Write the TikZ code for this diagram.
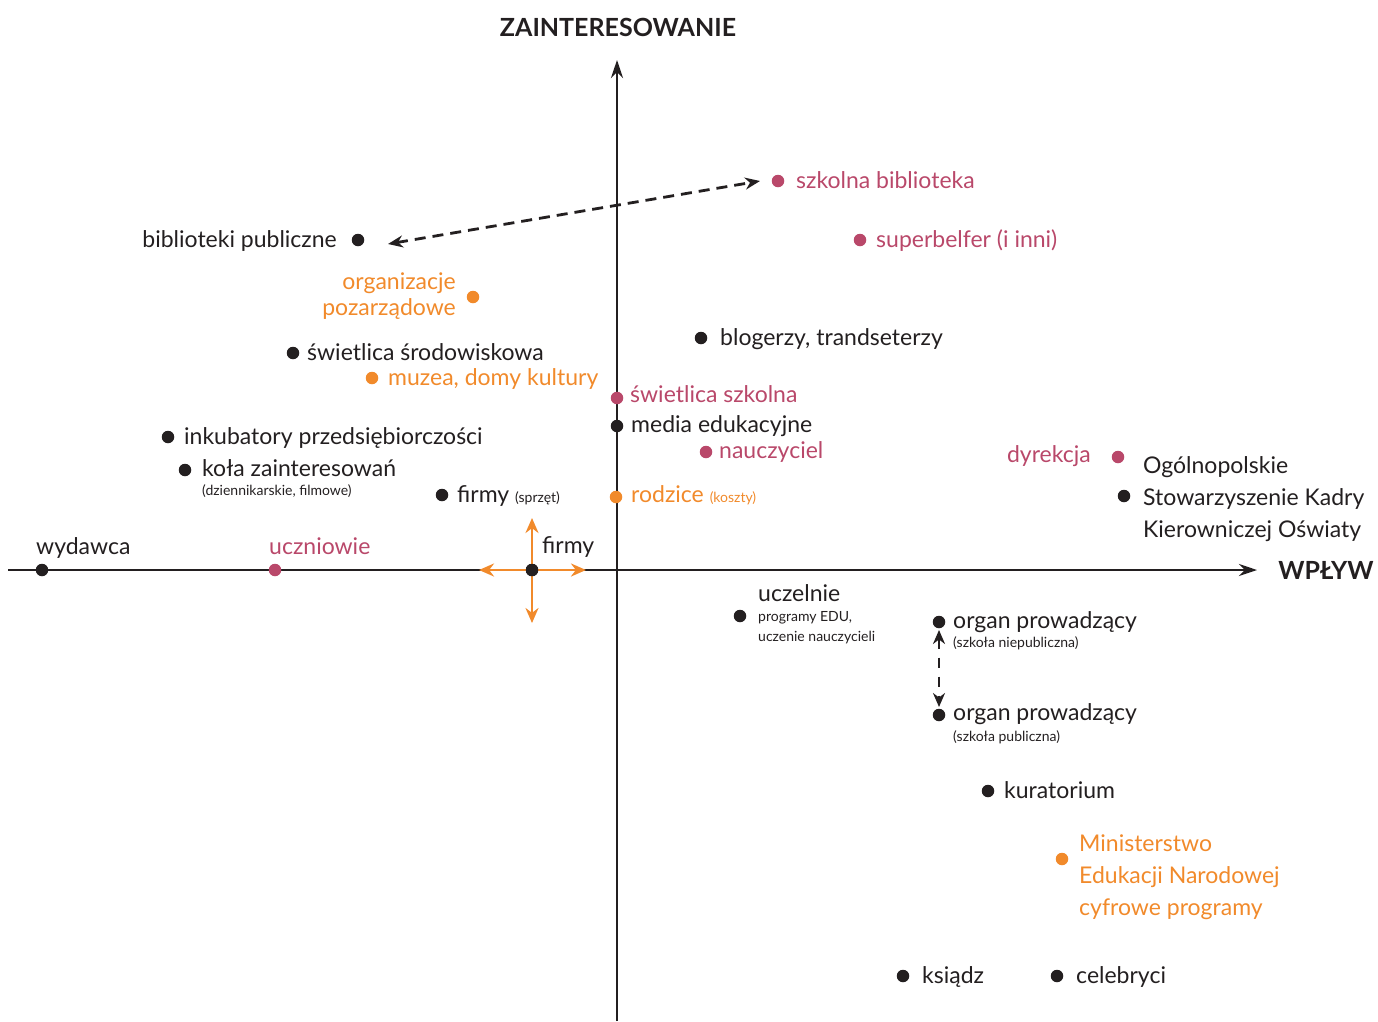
\documentclass[tikz,border=0pt]{standalone}
\usepackage{fontspec}
\setmainfont{Lato}
\usetikzlibrary{arrows.meta}
\definecolor{ink}{HTML}{231F20}
\definecolor{mag}{HTML}{B9486A}
\definecolor{org}{HTML}{F18A2B}
\tikzset{
  dot/.style={circle,fill=#1,inner sep=0pt,minimum size=12.5pt},
  lbl/.style={inner sep=0pt,anchor=base west,font=\fontsize{23}{27}\selectfont,text=#1},
  lbl/.default=ink,
  lble/.style={lbl=#1,anchor=base east},
  lble/.default=ink,
  sm/.style={inner sep=0pt,anchor=base west,font=\fontsize{14}{17}\selectfont,text=ink},
  axis/.style={line width=2.7pt,draw=ink,-{Stealth[length=18pt,width=12pt]}},
  dash2/.style={line width=2.8pt,draw=ink,dash pattern=on 11pt off 7pt,{Stealth[length=15pt,width=12pt]}-{Stealth[length=15pt,width=12pt]}},
  dashv/.style={line width=2.8pt,draw=ink,dash pattern=on 10pt off 9pt,{Stealth[length=14pt,width=12pt]}-{Stealth[length=14pt,width=12pt]}},
  oarr/.style={line width=2.6pt,draw=org,-{Stealth[length=15pt,width=13pt]}},
  head/.style={inner sep=0pt,font=\fontsize{25}{29}\selectfont\bfseries,text=ink}
}
\begin{document}
\begin{tikzpicture}[x=1pt,y=-1pt]
\useasboundingbox (0,0) rectangle (1378,1021);
% axes
\coordinate (xl) at (8,570);
\coordinate (xr) at (1257,570);
\coordinate (yb) at (617,1021);
\coordinate (yt) at (617,60);
\draw[axis] (xl) -- (xr);
\draw[axis] (yb) -- (yt);
\node[head] (ty) at (618,27) {ZAINTERESOWANIE};
\node[head] (tx) at (1326,570) {WPŁYW};

% points
\node[dot=mag] (sb) at (778,181) {};
\node[lbl=mag] (sbt) at (796,188) {szkolna biblioteka};
\node[dot=mag] (sf) at (860,240) {};
\node[lbl=mag] (sft) at (876,247) {superbelfer (i inni)};
\node[dot=ink] (bp) at (358,240) {};
\node[lble] (bpt) at (337,247) {biblioteki publiczne};
\draw[dash2] ([xshift=30pt,yshift=-4pt]bp.center) -- ([xshift=-18pt]sb.center);

\node[dot=org] (op) at (473,297) {};
\node[lble=org] (opt1) at (456,289) {organizacje};
\node[lble=org] (opt2) at (456,315) {pozarządowe};

\node[dot=ink] (bl) at (701,338) {};
\node[lbl] (blt) at (720,345) {blogerzy, trandseterzy};
\node[dot=ink] (ss) at (293,353) {};
\node[lbl] (sst) at (307,360) {świetlica środowiskowa};
\node[dot=org] (mu) at (372,378) {};
\node[lbl=org] (mut) at (388,385) {muzea, domy kultury};
\node[dot=mag] (sz) at (617,398) {};
\node[lbl=mag] (szt) at (630,402) {świetlica szkolna};
\node[dot=ink] (me) at (617,426) {};
\node[lbl] (met) at (631,432) {media edukacyjne};
\node[dot=mag] (na) at (706,452) {};
\node[lbl=mag] (nat) at (719,458) {nauczyciel};
\node[dot=ink] (in) at (168,437) {};
\node[lbl] (int) at (184,444) {inkubatory przedsiębiorczości};
\node[dot=ink] (kz) at (185,470) {};
\node[lbl] (kzt) at (202,476) {koła zainteresowań};
\node[sm] (kzs) at (202,495) {(dziennikarskie, filmowe)};
\node[dot=ink] (fs) at (442,495) {};
\node[lbl] (fst) at (457,502) {firmy {\fontsize{14}{17}\selectfont(sprzęt)}};
\node[dot=org] (ro) at (616,497) {};
\node[lbl=org] (rot) at (631,502) {rodzice {\fontsize{14}{17}\selectfont(koszty)}};

\node[dot=mag] (dy) at (1118,457) {};
\node[lble=mag] (dyt) at (1091,462) {dyrekcja};
\node[dot=ink] (os) at (1124,496) {};
\node[lbl] (ost1) at (1143,473) {Ogólnopolskie};
\node[lbl] (ost2) at (1143,505) {Stowarzyszenie Kadry};
\node[lbl] (ost3) at (1143,537) {Kierowniczej Oświaty};

\node[dot=ink] (wy) at (42,570) {};
\node[lbl] (wyt) at (36,554) {wydawca};
\node[dot=mag] (uc) at (275,570) {};
\node[lbl=mag] (uct) at (269,554) {uczniowie};

\node[dot=ink] (fi) at (532,570) {};
\node[lbl] (fit) at (542,553) {firmy};
\coordinate (fu) at (532,518);
\coordinate (fd) at (532,623);
\coordinate (fl) at (479,570);
\coordinate (fr) at (586,570);
\draw[oarr] (fi) -- (fu);
\draw[oarr] (fi) -- (fd);
\draw[oarr] (fi) -- (fl);
\draw[oarr] (fi) -- (fr);
\node[dot=ink] at (fi) {};

\node[dot=ink] (ue) at (740,616) {};
\node[lbl] (uet) at (758,601) {uczelnie};
\node[sm] (ues1) at (758,621) {programy EDU,};
\node[sm] (ues2) at (758,641) {uczenie nauczycieli};

\node[dot=ink] (o1) at (939,622) {};
\node[lbl] (o1t) at (953,628) {organ prowadzący};
\node[sm] (o1s) at (953,647) {(szkoła niepubliczna)};
\node[dot=ink] (o2) at (939,715) {};
\node[lbl] (o2t) at (953,720) {organ prowadzący};
\node[sm] (o2s) at (953,741) {(szkoła publiczna)};
\coordinate (v1) at (939,630);
\coordinate (v2) at (939,707);
\draw[dashv] (v1) -- (v2);

\node[dot=ink] (ku) at (988,791) {};
\node[lbl] (kut) at (1004,798) {kuratorium};

\node[dot=org] (mi) at (1062,859) {};
\node[lbl=org] (mit1) at (1079,851) {Ministerstwo};
\node[lbl=org] (mit2) at (1079,883) {Edukacji Narodowej};
\node[lbl=org] (mit3) at (1079,915) {cyfrowe programy};

\node[dot=ink] (ks) at (903,976) {};
\node[lbl] (kst) at (922,983) {ksiądz};
\node[dot=ink] (ce) at (1057,976) {};
\node[lbl] (cet) at (1076,983) {celebryci};
\end{tikzpicture}
\end{document}
